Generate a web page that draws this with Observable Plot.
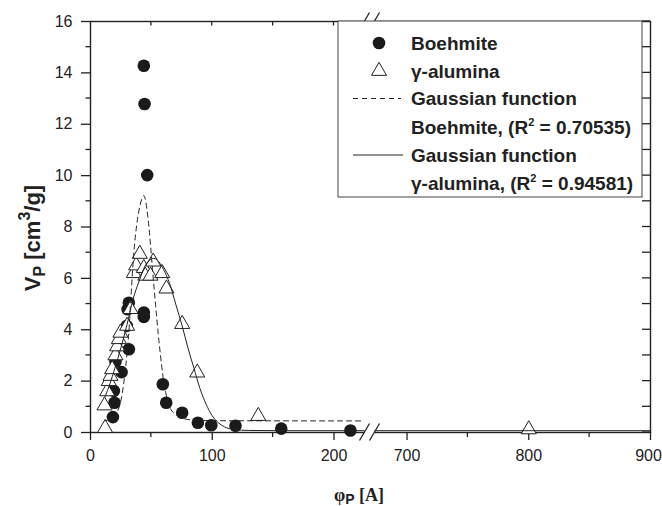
<!DOCTYPE html>
<html><head><meta charset="utf-8">
<script src="https://cdn.jsdelivr.net/npm/d3@7"></script>
<script src="https://cdn.jsdelivr.net/npm/@observablehq/plot@0.6"></script>
<style>body{margin:0;background:#fff}</style>
</head><body><div id="chart"></div>
<script>
// ---- data ----
const boehmiteX = [18.4, 19.7, 19.2, 20.5, 25.5, 29.8, 31.5, 30.5, 31.5, 43.8, 43.8, 43.8, 44.4, 46.6, 59.4, 62.2, 75.3, 88.2, 99.2, 119.1, 156.7, 213.5];
const boehmiteY = [0.6, 1.16, 1.62, 2.75, 2.35, 4.15, 3.24, 4.8, 5.05, 4.5, 4.67, 14.28, 12.79, 10.02, 1.88, 1.16, 0.77, 0.38, 0.28, 0.26, 0.15, 0.08];

const aluminaX = [12, 11.5, 13.7, 15, 16.4, 17.8, 20.5, 21.9, 23.3, 24.6, 30.1, 32.9, 35.6, 37.5, 40.5, 43.8, 45, 49.3, 51.5, 58.9, 62.4, 75.3, 87.7, 137.8, 800];
const aluminaY = [0.17, 1.05, 1.6, 2.0, 2.2, 2.46, 3.0, 3.35, 3.63, 3.88, 4.15, 4.8, 6.2, 6.5, 6.95, 6.4, 6.1, 6.1, 6.65, 6.2, 5.6, 4.22, 2.33, 0.64, 0.12];

const fitBoehmiteX = [12, 18, 22, 26, 29, 31.5, 33, 35.6, 38, 40.5, 43.8, 47.1, 49.3, 51, 53.4, 55.5, 57.5, 59.5, 62, 65, 70, 76, 85, 100, 223];
const fitBoehmiteY = [0.46, 0.55, 0.8, 1.5, 2.6, 3.9, 5.1, 7.0, 8.1, 8.8, 9.22, 8.4, 7.3, 6.3, 5.0, 3.9, 3.0, 2.2, 1.5, 1.0, 0.7, 0.55, 0.48, 0.46, 0.45];

const fitAluminaX = [12, 16, 20, 25, 30, 35, 40, 45, 50, 52, 56, 60, 65, 70, 75, 80, 85, 90, 95, 100, 105, 110, 118, 130, 160, 230, 700, 900];
const fitAluminaY = [1.4, 1.9, 2.5, 3.3, 4.2, 5.2, 5.9, 6.5, 6.75, 6.78, 6.65, 6.35, 5.8, 5.0, 4.2, 3.3, 2.5, 1.7, 1.1, 0.65, 0.38, 0.22, 0.12, 0.08, 0.07, 0.07, 0.07, 0.07];

const xTickValues = [0, 100, 200, 700, 800, 900];
const xMinorValues = [50, 150, 750, 850];
const xTopValues = [50, 100, 150, 200, 750, 800, 850];
const yTickValues = [0, 2, 4, 6, 8, 10, 12, 14, 16];
const yMinorValues = [1, 3, 5, 7, 9, 11, 13, 15];
const yRightValues = d3.range(0, 17);

const legendLabels = ["Boehmite", "γ-alumina", "Gaussian function", "Boehmite, (R", "Gaussian function", "γ-alumina, (R"];
const legendR2 = [null, null, null, "0.70535", null, "0.94581"];

// ---- broken axis ----
const BREAK_LO = 230, BREAK_HI = 670;
const brk = v => v <= BREAK_LO ? v : v - (BREAK_HI - BREAK_LO);
const unbrk = v => v <= BREAK_LO ? v : v + (BREAK_HI - BREAK_LO);

const toRows = (xs, ys) => xs.map((x, i) => ({x: brk(x), y: ys[i]}));
const boehmite = toRows(boehmiteX, boehmiteY);
const alumina = toRows(aluminaX, aluminaY);
const fitB = toRows(fitBoehmiteX, fitBoehmiteY);
const fitA = toRows(fitAluminaX, fitAluminaY);

const INK = "#222";
const SANS = "'Liberation Sans', Arial, sans-serif";
const CIRCLE_R = 6.3, TRI_R = 5.6;
const W = 662, H = 506, ML = 90, MR = 12, MT = 21, MB = 74;

const chart = Plot.plot({
  width: W, height: H,
  marginLeft: ML, marginRight: MR, marginTop: MT, marginBottom: MB,
  x: {domain: [0, brk(900)], label: null, ticks: xTickValues.map(brk), tickFormat: v => String(unbrk(v)), tickSize: 8, tickPadding: 9},
  y: {domain: [0, 16], label: null, ticks: yTickValues, tickSize: 9, tickPadding: 9},
  style: {fontFamily: SANS, fontSize: "16px", color: INK, background: "#fff"},
  marks: [
    Plot.frame({stroke: INK, strokeWidth: 1.4}),
    Plot.dot(boehmite, {x: "x", y: "y", r: CIRCLE_R, fill: "#1a1a1a", stroke: "none"}),
    Plot.dot(alumina, {x: "x", y: "y", symbol: "triangle", r: TRI_R, fill: "white", stroke: INK, strokeWidth: 1}),
    Plot.line(fitB, {x: "x", y: "y", stroke: INK, strokeWidth: 1, strokeDasharray: "5,4", curve: "monotone-x"}),
    Plot.line(fitA, {x: "x", y: "y", stroke: INK, strokeWidth: 1, curve: "monotone-x"})
  ]
});
document.getElementById("chart").appendChild(chart);

// ---- decorations: tick label font, minor ticks, breaks, titles, legend ----
const svg = d3.select(chart);
svg.selectAll("text").attr("font-size", 16).attr("font-family", SANS).style("font-size", "16px");
// keep the last x tick label ("900") inside the picture
svg.selectAll("text").filter(function () { return this.textContent === "900"; }).attr("dx", -2);
const sx = d3.scaleLinear([0, brk(900)], [ML, W - MR]);
const sy = d3.scaleLinear([0, 16], [H - MB, MT]);
const yBottom = sy(0), yTop = sy(16), xLeft = sx(0), xRight = sx(brk(900));
svg.selectAll("[aria-label$='axis'] path, [aria-label$='tick'] path").attr("stroke-width", 1.3);
const tg = svg.append("g").attr("stroke", INK).attr("stroke-width", 1.3);
xMinorValues.forEach(v => tg.append("line").attr("x1", sx(brk(v))).attr("x2", sx(brk(v))).attr("y1", yBottom).attr("y2", yBottom + 5));
xTopValues.forEach(v => tg.append("line").attr("x1", sx(brk(v))).attr("x2", sx(brk(v))).attr("y1", yTop).attr("y2", yTop + 4.5));
yMinorValues.forEach(v => tg.append("line").attr("x1", xLeft - 4.5).attr("x2", xLeft).attr("y1", sy(v)).attr("y2", sy(v)));
yRightValues.forEach(v => tg.append("line").attr("x1", xRight - 8).attr("x2", xRight).attr("y1", sy(v)).attr("y2", sy(v)));

const bx = sx(BREAK_LO) - 0.5;
const g = svg.append("g");
for (const yy of [yBottom, yTop]) {
  g.append("rect").attr("x", bx - 5).attr("y", yy - 3).attr("width", 10).attr("height", 5).attr("fill", "#fff");
  for (const cx of [bx - 5, bx + 5]) {
    g.append("line").attr("x1", cx - 5).attr("y1", yy + 8.5).attr("x2", cx + 5).attr("y2", yy - 8.5)
      .attr("stroke", INK).attr("stroke-width", 1.3);
  }
}

// y title
const yt = svg.append("text")
  .attr("transform", `translate(40,238) rotate(-90)`)
  .attr("text-anchor", "middle")
  .attr("font-family", SANS)
  .attr("font-weight", "bold").attr("font-size", 22).attr("fill", INK);
yt.append("tspan").text("V");
yt.append("tspan").attr("font-size", 16).attr("dy", 5).text("P");
yt.append("tspan").attr("dy", -5).text(" [cm");
yt.append("tspan").attr("font-size", 16).attr("dy", -10).text("3");
yt.append("tspan").attr("dy", 10).text("/g]");

// x title
const xt = svg.append("text")
  .attr("x", 359).attr("y", 501).attr("text-anchor", "middle")
  .attr("font-weight", "bold").attr("font-size", 18).attr("fill", INK)
  .attr("font-family", "'Liberation Serif', 'Times New Roman', serif");
xt.append("tspan").text("φ");
xt.append("tspan").attr("font-family", SANS).attr("font-size", 14).attr("dy", 3).text("P");
xt.append("tspan").attr("dy", -3).text(" [A]");

// legend
const lg = svg.append("g");
lg.append("rect").attr("x", 338).attr("y", yTop).attr("width", 304).attr("height", 197 - yTop)
  .attr("fill", "#fff").attr("stroke", "#444").attr("stroke-width", 1);
const rowY = [43, 71, 98.5, 127, 155, 183];
lg.append("circle").attr("cx", 379).attr("cy", rowY[0]).attr("r", CIRCLE_R).attr("fill", "#1a1a1a");
lg.append("path").attr("transform", `translate(379,${rowY[1]})`)
  .attr("d", d3.symbol(d3.symbolTriangle, TRI_R * TRI_R * Math.PI)())
  .attr("fill", "#fff").attr("stroke", INK).attr("stroke-width", 1);
lg.append("line").attr("x1", 353).attr("x2", 401).attr("y1", rowY[2]).attr("y2", rowY[2])
  .attr("stroke", INK).attr("stroke-width", 1).attr("stroke-dasharray", "5,4");
lg.append("line").attr("x1", 353).attr("x2", 403).attr("y1", rowY[4]).attr("y2", rowY[4])
  .attr("stroke", INK).attr("stroke-width", 1);
legendLabels.forEach((lab, i) => {
  const t = lg.append("text").attr("x", 411).attr("y", rowY[i] + 6.8)
    .attr("text-anchor", "start")
    .attr("font-family", SANS)
    .attr("font-weight", "bold").attr("font-size", 19).attr("fill", INK);
  t.append("tspan").text(lab);
  if (legendR2[i]) {
    t.append("tspan").attr("font-size", 11).attr("dy", -8).text("2");
    t.append("tspan").attr("dy", 8).text(" = " + legendR2[i] + ")");
  }
});
</script>
</body></html>
